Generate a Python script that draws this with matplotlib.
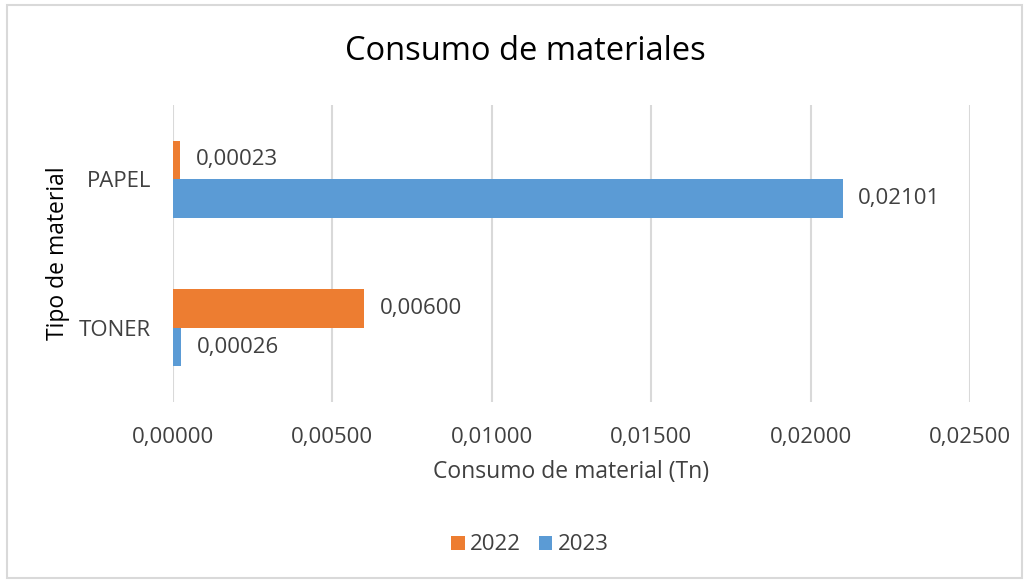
import numpy as np
import matplotlib.pyplot as plt
from matplotlib.patches import Rectangle

plt.rcParams['font.family'] = ['Open Sans', 'DejaVu Sans']

# Consumo de materiales (Tn)
materiales = ['TONER', 'PAPEL']
consumo_2022 = [0.00600, 0.00023]
consumo_2023 = [0.00026, 0.02101]

color_2022 = '#ED7D31'
color_2023 = '#5B9BD5'
texto = '#404040'

def coma(v, dec=5):
    return f'{v:.{dec}f}'.replace('.', ',')

fig = plt.figure(figsize=(10.29, 5.81), dpi=100)
fig.patches.append(Rectangle((7 / 1029, 3 / 581), 1015 / 1029, 573 / 581,
                             transform=fig.transFigure, fill=False,
                             edgecolor='#D9D9D9', linewidth=1.5))
ax = fig.add_axes([173 / 1029, 1 - 402 / 581, 797 / 1029, 297 / 581])

y = np.arange(len(materiales))
h = 0.26
b22 = ax.barh(y + h / 2, consumo_2022, height=h, color=color_2022, label='2022')
b23 = ax.barh(y - h / 2, consumo_2023, height=h, color=color_2023, label='2023')

for barras in (b22, b23):
    for rect in barras:
        v = rect.get_width()
        ax.annotate(coma(v), (v, rect.get_y() + rect.get_height() / 2),
                    xytext=(11, 0), textcoords='offset points',
                    va='center', ha='left', fontsize=16, color=texto)

ax.set_xlim(0, 0.025)
ax.set_ylim(-0.5, 1.5)
ticks = np.arange(0, 0.0251, 0.005)
ax.set_xticks(ticks)
ax.set_xticklabels([coma(t) for t in ticks])
ax.set_yticks(y)
ax.set_yticklabels(materiales)
ax.tick_params(axis='both', length=0, labelsize=16, colors=texto)
ax.tick_params(axis='x', pad=18)
ax.tick_params(axis='y', pad=16)
ax.grid(axis='x', color='#D9D9D9', linewidth=1.5)
ax.set_axisbelow(True)
for s in ax.spines.values():
    s.set_visible(False)

fig.text(525 / 1029, 1 - 52 / 581, 'Consumo de materiales', fontsize=23.5,
         color='black', ha='center', va='center')
ax.set_xlabel('Consumo de material (Tn)', fontsize=16.5, color=texto, labelpad=9)
ax.set_ylabel('Tipo de material', fontsize=16.5, color='black', labelpad=6)

fig.legend(handles=[b22, b23], loc='center', bbox_to_anchor=(530 / 1029, 1 - 545 / 581),
           ncol=2, frameon=False, fontsize=16, handlelength=0.6, handleheight=0.6,
           handletextpad=0.25, columnspacing=0.8, labelcolor=texto)

fig.savefig('out.png', dpi=100, facecolor='white')
